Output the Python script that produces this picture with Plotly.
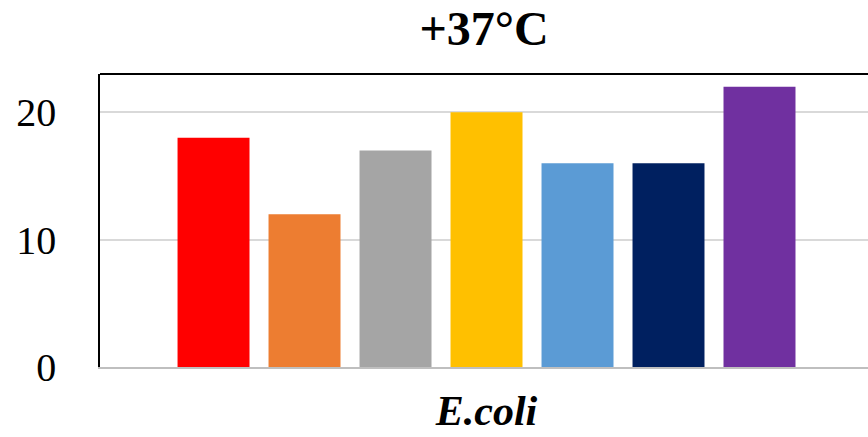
import plotly.graph_objects as go

categories = ["E.coli"]
series_names = ["Series 1", "Series 2", "Series 3", "Series 4", "Series 5", "Series 6", "Series 7"]
series_values = [[18], [12], [17], [20], [16], [16], [22]]
series_colors = ["#FF0000", "#ED7D31", "#A5A5A5", "#FFC000", "#5B9BD5", "#002060", "#7030A0"]
y_ticks = [0, 10, 20]

fig = go.Figure()
for name, vals, col in zip(series_names, series_values, series_colors):
    fig.add_trace(go.Bar(x=categories, y=vals, name=name, marker=dict(color=col, line=dict(width=0))))

serif = "Liberation Serif, Times New Roman, serif"
fig.update_layout(
    width=868, height=437,
    margin=dict(l=100, r=0, t=74, b=70, autoexpand=False),
    paper_bgcolor="white", plot_bgcolor="white",
    barmode="group", bargap=0.176, bargroupgap=0.209,
    showlegend=False,
    title=dict(text="<b>+37°C</b>", font=dict(family=serif, size=48, color="black"),
               x=0.5, xanchor="center", xref="paper", y=0.935, yref="container", yanchor="middle",
               automargin=False),
    xaxis=dict(type="category", range=[-0.5, 0.4935], showgrid=False, automargin=False,
               showline=True, linecolor="#bfbfbf", linewidth=2,
               tickfont=dict(family=serif, size=42, color="black", weight="bold", style="italic"),
               ticks="", ticklabelstandoff=6),
    yaxis=dict(range=[0, 23], tickvals=y_ticks, showgrid=True, gridcolor="#d9d9d9", gridwidth=1.5,
               zeroline=False, showline=True, linecolor="black", linewidth=1.5, automargin=False,
               tickfont=dict(family=serif, size=40, color="black"), ticks="", ticklabelstandoff=34),
    shapes=[dict(type="line", xref="paper", yref="paper", x0=0, x1=1, y0=1, y1=1,
                 line=dict(color="black", width=2))],
)
fig.write_html("out.html", config={"displayModeBar": False},
               post_script="document.body.style.margin='0';document.body.style.overflow='hidden';")
